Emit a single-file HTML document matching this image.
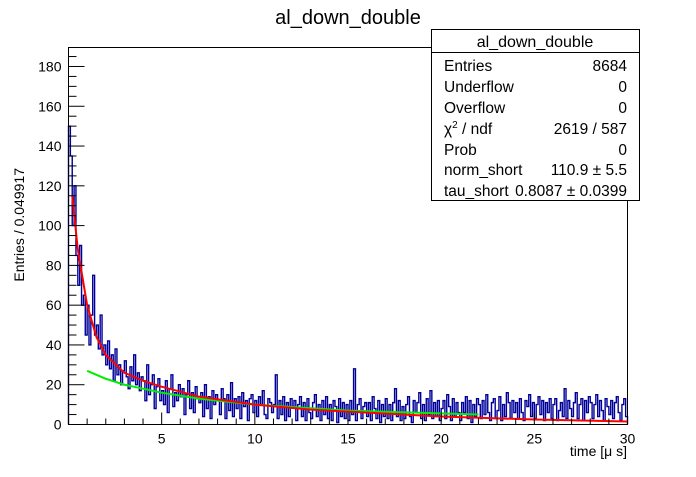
<!DOCTYPE html>
<html><head><meta charset="utf-8"><style>
body{margin:0;background:#fff;font-family:"Liberation Sans",Arial,sans-serif}
svg text{font-family:"Liberation Sans",Arial,sans-serif}
</style></head><body>
<svg id="c" width="696" height="472" xmlns="http://www.w3.org/2000/svg">
<rect width="696" height="472" fill="#fff"/>
<text x="348" y="24" font-size="20" text-anchor="middle">al_down_double</text>
<g id="plot"></g>
<rect x="68.5" y="47.5" width="559" height="377" fill="none" stroke="#000"/>
<g id="axes"></g>
<text x="627" y="456" font-size="14" text-anchor="end">time [μ s]</text>
<text transform="translate(24,168) rotate(-90)" font-size="14" text-anchor="end">Entries / 0.049917</text>
<g>
<rect x="431.5" y="29.5" width="208" height="171" fill="#fff" stroke="#000"/>
<line x1="431.5" y1="52.5" x2="639.5" y2="52.5" stroke="#000"/>
<text x="535" y="47" font-size="16" text-anchor="middle">al_down_double</text>
<g font-size="15.5">
<text x="444" y="71">Entries</text><text x="627" y="71" text-anchor="end">8684</text>
<text x="444" y="92">Underflow</text><text x="627" y="92" text-anchor="end">0</text>
<text x="444" y="113">Overflow</text><text x="627" y="113" text-anchor="end">0</text>
<text x="444" y="134">χ<tspan font-size="10" dy="-6">2</tspan><tspan dy="6"> / ndf</tspan></text><text x="627" y="134" text-anchor="end">2619 / 587</text>
<text x="444" y="155">Prob</text><text x="627" y="155" text-anchor="end">0</text>
<text x="444" y="175">norm_short</text><text x="627" y="175" text-anchor="end">110.9 ± 5.5</text>
<text x="444" y="196">tau_short</text><text x="627" y="196" text-anchor="end">0.8087 ± 0.0399</text>
</g></g>
</svg>
<script>
const binWidth = 0.1;
const counts = [
150,135,100,120,85,70,90,60,65,45,
60,40,55,75,45,50,38,55,35,40,
30,42,28,35,22,38,25,30,20,27,
32,24,18,29,22,35,20,26,17,24,
22,12,30,15,20,25,8,19,23,12,
17,10,22,6,18,25,9,16,12,20,
14,18,5,15,22,8,16,6,19,13,
11,16,4,20,8,14,3,17,10,15,
12,5,18,13,3,15,7,21,4,13,
8,14,3,16,9,12,2,13,15,6,
12,4,14,10,17,5,3,13,11,6,
10,25,3,12,5,14,2,11,4,13,
9,12,2,10,14,4,11,2,13,6,
3,11,15,4,10,2,12,5,14,3,
10,2,12,9,1,13,4,11,3,10,
2,12,5,28,2,10,13,3,9,11,
4,11,2,14,8,3,12,1,10,4,
13,3,10,2,11,18,4,12,2,9,
3,10,14,4,1,12,6,11,16,3,
10,2,13,5,17,3,11,4,12,2,
8,12,3,15,9,2,13,4,11,6,
2,11,6,14,3,12,1,10,4,13,
10,3,12,5,15,6,2,11,13,3,
7,14,2,10,4,16,11,3,12,6,
11,3,13,6,2,12,9,15,4,11,
3,10,14,5,12,2,11,6,13,3,
10,13,2,7,11,4,18,3,12,8,
4,11,16,3,10,13,2,12,6,14,
11,3,10,15,4,12,7,2,13,9,
5,12,3,11,14,6,2,10,13,4];
const fitT = [0.2,0.5,1,1.5,2,3,4,5,7,10,13,15,20,25,30];
const fitY = [115,88,60,44,35,26,22,19,14,10,7.5,6.5,4,2.5,1.5];
const greenT = [1,2,3,5,7,10,15,22];
const greenY = [27,23,20,16,13,10,7,5];
const xTicks = [5,10,15,20,25,30];
const yTicks = [0,20,40,60,80,100,120,140,160,180];

const X0=68.5,X1=627.5,Y0=424.5,YT=47.5;
const xs=v=>X0+(v/30)*(X1-X0);
const ys=v=>Y0-v*1.989;
const NS="http://www.w3.org/2000/svg";
const plot=document.getElementById('plot'),axes=document.getElementById('axes');
function mk(t,a,p){const e=document.createElementNS(NS,t);for(const k in a)e.setAttribute(k,a[k]);p.appendChild(e);return e;}
let d='M'+xs(0)+','+ys(0);
counts.forEach((c,i)=>{const cy=Math.max(ys(c),YT);d+=' L'+xs(i*binWidth)+','+cy+' L'+xs((i+1)*binWidth)+','+cy;});
d+=' L'+xs(counts.length*binWidth)+','+ys(0);
const h=mk('path',{d:d,fill:'none',stroke:'#000099','stroke-width':1.4},plot);


const g=mk('polyline',{points:greenT.map((t,i)=>xs(t)+','+ys(greenY[i])).join(' '),fill:'none',stroke:'#00ee00','stroke-width':2},plot);


const r=mk('polyline',{points:fitT.map((t,i)=>xs(t)+','+ys(fitY[i])).join(' '),fill:'none',stroke:'#ff0000','stroke-width':2},plot);


for(let v=1;v<=30;v++){const maj=v%5==0;mk('line',{x1:xs(v),x2:xs(v),y1:Y0,y2:Y0-(maj?12:6),stroke:'#000'},axes);}
xTicks.forEach(v=>{const t=mk('text',{x:xs(v),y:Y0+19,'font-size':14,'text-anchor':'middle'},axes);t.textContent=v;

});
for(let v=0;v<=185;v+=5){const maj=v%20==0;mk('line',{x1:X0,x2:X0+(maj?16:8),y1:ys(v),y2:ys(v),stroke:'#000'},axes);}
yTicks.forEach(v=>{const t=mk('text',{x:X0-7,y:ys(v)+5,'font-size':14,'text-anchor':'end'},axes);t.textContent=v;

});
</script>
</body></html>
